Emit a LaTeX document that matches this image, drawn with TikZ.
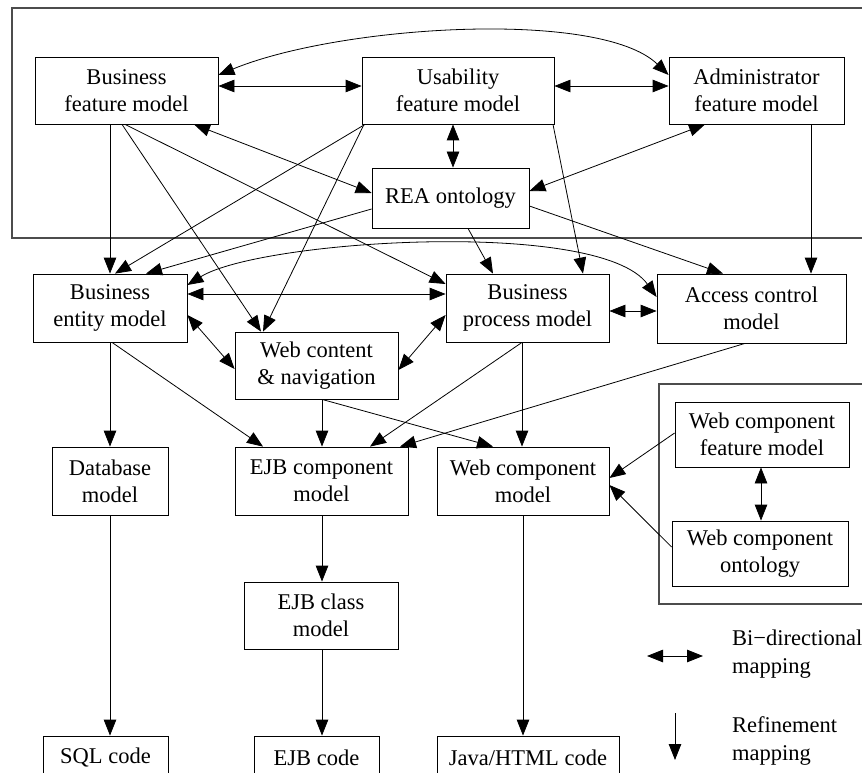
\documentclass[tikz,border=0pt]{standalone}
\usepackage{fontspec}
\setmainfont{Liberation Serif}
\usetikzlibrary{arrows.meta}
\begin{document}
\begin{tikzpicture}[x=1pt,y=-1pt,
  box/.style={draw,line width=0.8pt,inner sep=0pt,align=center,
    font=\fontsize{22.5}{27}\selectfont},
  lbl/.style={inner sep=0pt,align=left,anchor=west,
    font=\fontsize{22.5}{28}\selectfont},
  frame/.style={draw=black!70,line width=1.2pt},
  tip/.tip={Triangle[length=16pt,width=12.5pt]},
  ar/.style={line width=0.8pt,-tip},
  bi/.style={line width=0.8pt,tip-tip}]
\useasboundingbox (0,0) rectangle (862,773);

% group frames
\draw[frame] (12,8) rectangle (875,238);
\draw[frame] (659,384) rectangle (875,604);

% feature models and ontology
\node[box,minimum width=183pt,minimum height=67pt] (bfm) at (126.5,90.5) {Business\\feature model};
\node[box,minimum width=192pt,minimum height=67pt] (ufm) at (458,90.5) {Usability\\feature model};
\node[box,minimum width=175pt,minimum height=67pt] (afm) at (756.5,90.5) {Administrator\\feature model};
\node[box,minimum width=157pt,minimum height=60pt] (rea) at (450.5,198) {REA ontology};

% domain models
\node[box,minimum width=154pt,minimum height=68pt] (bem) at (110,308) {Business\\entity model};
\node[box,minimum width=163pt,minimum height=67pt] (wcn) at (316.5,365.5) {Web content\\ \& navigation};
\node[box,minimum width=163pt,minimum height=68pt] (bpm) at (527.5,308) {Business\\process model};
\node[box,minimum width=189pt,minimum height=69pt] (acm) at (751.5,308.5) {Access control\\model};

% component models
\node[box,minimum width=116pt,minimum height=68pt] (dbm) at (110,481) {Database\\model};
\node[box,minimum width=173pt,minimum height=68pt] (ejbc) at (321.5,481) {EJB component\\model};
\node[box,minimum width=172pt,minimum height=68pt] (wcm) at (523,481) {Web component\\model};
\node[box,minimum width=174pt,minimum height=65pt] (wcfm) at (762,434.5) {Web component\\feature model};
\node[box,minimum width=176pt,minimum height=65pt] (wco) at (760,553.5) {Web component\\ontology};
\node[box,minimum width=154pt,minimum height=67pt] (ejbcl) at (321,615.5) {EJB class\\model};

% generated code
\node[box,minimum width=125pt,minimum height=44pt] (sql) at (105.5,758) {SQL code};
\node[box,minimum width=125pt,minimum height=44pt] (ejbcode) at (316.5,758) {EJB code};
\node[box,minimum width=182pt,minimum height=44pt] (java) at (528,758) {Java/HTML code};

% mappings among the feature models
\draw[bi] (bfm.east |- 0,86) -- (ufm.west |- 0,86);
\draw[bi] (ufm.east |- 0,86) -- (afm.west |- 0,86);
\draw[bi] (bfm.east |- 0,75) .. controls (340,25) and (600,9) .. (afm.west |- 0,75);
\draw[bi] (453,0 |- ufm.south) -- (453,0 |- rea.north);
\draw[bi] (194,0 |- bfm.south) -- (rea.west |- 0,193);
\draw[bi] (705,0 |- afm.south) -- (rea.east |- 0,191);

% refinement into domain models
\draw[ar] (110,0 |- bfm.south) -- (bem.north);
\draw[ar] (122,0 |- bfm.south) -- (261,0 |- wcn.north);
\draw[ar] (125,0 |- bfm.south) -- (bpm.west |- 0,284);
\draw[ar] (365,0 |- ufm.south) -- (115,0 |- bem.north);
\draw[ar] (364,0 |- ufm.south) -- (263,0 |- wcn.north);
\draw[ar] (553,0 |- ufm.south) -- (583,0 |- bpm.north);
\draw[ar] (rea.west |- 0,209) -- (146,0 |- bem.north);
\draw[ar] (468,0 |- rea.south) -- (493,0 |- bpm.north);
\draw[ar] (rea.east |- 0,206) -- (723,0 |- acm.north);
\draw[ar] (811,0 |- afm.south) -- (811,0 |- acm.north);

% mappings among the domain models
\draw[bi] (bem.east |- 0,294) -- (bpm.west |- 0,294);
\draw[bi] (bem.east |- 0,285) .. controls (260,240) and (600,218) .. (acm.west |- 0,297);
\draw[bi] (bem.east |- 0,315) -- (wcn.west |- 0,369);
\draw[bi] (bpm.west |- 0,315) -- (wcn.east |- 0,370);
\draw[bi] (bpm.east |- 0,311) -- (acm.west |- 0,311);

% refinement into component models
\draw[ar] (bem.south) -- (dbm.north);
\draw[ar] (112,0 |- bem.south) -- (263,0 |- ejbc.north);
\draw[ar] (322,0 |- wcn.south) -- (322,0 |- ejbc.north);
\draw[ar] (322,0 |- wcn.south) -- (493,0 |- wcm.north);
\draw[ar] (522,0 |- bpm.south) -- (370,0 |- ejbc.north);
\draw[ar] (522,0 |- bpm.south) -- (522,0 |- wcm.north);
\draw[ar] (745,0 |- acm.south) -- (400,0 |- ejbc.north);
\draw[ar] (wcfm.west |- 0,433) -- (wcm.east |- 0,478);
\draw[ar] (wco.west |- 0,547) -- (wcm.east |- 0,485);
\draw[bi] (761,0 |- wcfm.south) -- (761,0 |- wco.north);

% refinement into code
\draw[ar] (110,0 |- dbm.south) -- (110,0 |- sql.north);
\draw[ar] (322,0 |- ejbc.south) -- (322,0 |- ejbcl.north);
\draw[ar] (322,0 |- ejbcl.south) -- (322,0 |- ejbcode.north);
\draw[ar] (523,0 |- wcm.south) -- (523,0 |- java.north);

% legend
\coordinate (lbA) at (647,656);
\coordinate (lbB) at (703,656);
\coordinate (lrA) at (675,713);
\coordinate (lrB) at (675,760);
\draw[bi] (lbA) -- (lbB);
\draw[ar] (lrA) -- (lrB);
\node[lbl] (lgbi) at (732,654) {Bi−directional\\mapping};
\node[lbl] (lgref) at (732,741) {Refinement\\mapping};
\end{tikzpicture}
\end{document}
